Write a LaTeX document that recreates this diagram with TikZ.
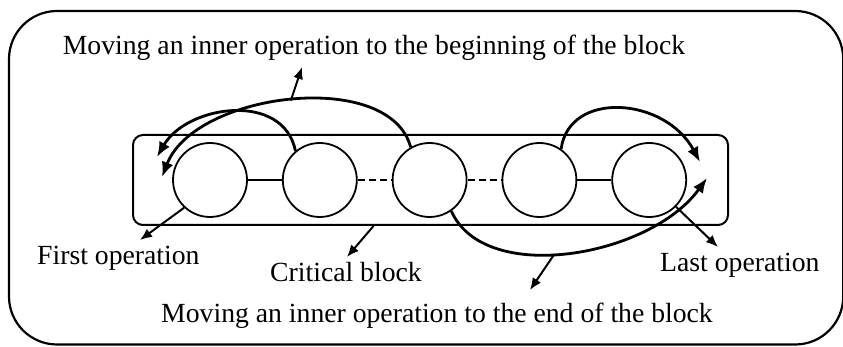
\documentclass[tikz,border=0pt]{standalone}
\usepackage{fontspec}
\setmainfont{Liberation Serif}
\usetikzlibrary{positioning, arrows.meta}

\begin{document}
\begin{tikzpicture}[x=1pt, y=1pt,
    op/.style={circle, draw, line width=1.8pt, minimum size=74pt, inner sep=0pt},
    move/.style={line width=2.8pt, -{Latex[length=15pt,width=12pt]}},
    pointer/.style={line width=2pt, -{Latex[length=12pt,width=10pt]}},
    lbl/.style={font=\fontsize{27.7}{33}\selectfont, inner sep=0pt}]
    \useasboundingbox (0,0) rectangle (843,347);

    % Outer frame
    \draw[line width=2.2pt, rounded corners=48pt] (9,2.5) rectangle (843.2,336);

    % Critical block
    \node[draw, line width=2pt, rounded corners=10pt, minimum width=595pt, minimum height=90pt] (block) at (430.5,167) {};

    % Operations
    \node[op] (op1) at (210,167) {};
    \node[op, right=34pt of op1] (op2) {};
    \node[op, right=34pt of op2] (op3) {};
    \node[op, right=34pt of op3] (op4) {};
    \node[op, right=34pt of op4] (op5) {};
    \draw[line width=1.8pt] (op1) -- (op2);
    \draw[line width=1.8pt, dash pattern=on 7pt off 4pt] (op2) -- (op3);
    \draw[line width=1.8pt, dash pattern=on 7pt off 4pt] (op3) -- (op4);
    \draw[line width=1.8pt] (op4) -- (op5);

    % Arrow ends
    \coordinate (beginA) at (157,190);
    \coordinate (beginB) at (162,170);
    \coordinate (endA) at (700,185);
    \coordinate (endB) at (707,169);

    % Moves to the beginning
    \draw[move] (op2.130) .. controls +(-12,60) and +(30,52) .. (beginA);
    \draw[move] (op3.120) .. controls +(-21,79) and +(33,85) .. (beginB) coordinate[pos=0.5] (peakB);

    % Moves to the end
    \draw[move] (op4.55) .. controls +(8,59) and +(-35,65) .. (endA);
    \draw[move] (op3.-55) .. controls +(33,-75) and +(-57,-79) .. (endB) coordinate[pos=0.45] (lowD);

    % Pointers
    \coordinate (upTip) at (302,280);
    \coordinate (downTip) at (530,57);
    \coordinate (firstTip) at (140,107);
    \coordinate (blockTip) at (347,90);
    \coordinate (lastTip) at (718,100);
    \draw[pointer] (peakB) -- (upTip);
    \draw[pointer] (lowD) -- (downTip);
    \draw[pointer] (op1.227) -- (firstTip);
    \draw[pointer] ([xshift=-57pt]block.south) -- (blockTip);
    \draw[pointer] (op5.-45) -- (lastTip);

    % Labels
    \node[lbl, anchor=base] (beginLbl) at (374,292) {Moving an inner operation to the beginning of the block};
    \node[lbl, anchor=base west] (firstLbl) at (37,82) {First operation};
    \node[lbl, anchor=base west] (blockLbl) at (270,65) {Critical block};
    \node[lbl, anchor=base west] (lastLbl) at (660,75) {Last operation};
    \node[lbl, anchor=base] (endLbl) at (437,24) {Moving an inner operation to the end of the block};
\end{tikzpicture}
\end{document}
